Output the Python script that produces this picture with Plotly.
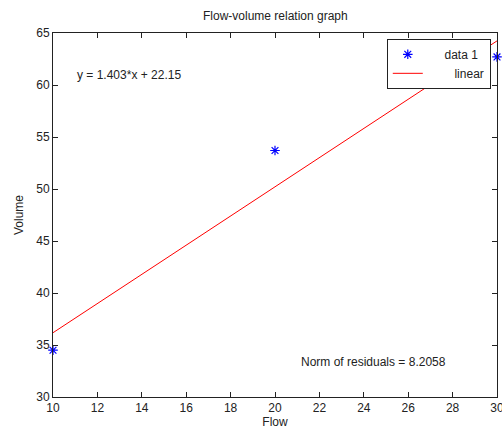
import plotly.graph_objects as go

flow = [10, 20, 30]
volume = [34.5, 53.7, 62.7]
slope = 1.403
intercept = 22.15
fit_x = [10, 30]
fit_y = [slope * v + intercept for v in fit_x]
x_ticks = [10, 12, 14, 16, 18, 20, 22, 24, 26, 28, 30]
y_ticks = [30, 35, 40, 45, 50, 55, 60, 65]
eq_text = "y = 1.403*x + 22.15"
norm_text = "Norm of residuals = 8.2058"

font = "Liberation Sans, Arial, sans-serif"

fig = go.Figure()
fig.add_trace(go.Scatter(
    x=flow, y=volume, mode="markers", name="\u00a0\u00a0\u00a0\u00a0\u00a0data 1",
    marker=dict(symbol="asterisk-open", size=8, color="blue",
                line=dict(color="blue", width=1.2)),
    cliponaxis=False,
))
fig.add_trace(go.Scatter(
    x=fit_x, y=fit_y, mode="lines", name="\u00a0\u00a0\u00a0\u00a0\u00a0\u00a0\u00a0\u00a0linear",
    line=dict(color="red", width=1),
))

axis_common = dict(
    showgrid=False, zeroline=False, showline=True, linecolor="#222",
    linewidth=1, mirror="ticks", ticks="inside", ticklen=5,
    tickcolor="#222", tickfont=dict(family=font, size=12, color="#222"),
    automargin=False, ticklabeloverflow="allow",
)
fig.update_xaxes(range=[10, 30], tickvals=x_ticks,
                 title=dict(text="Flow", font=dict(family=font, size=12, color="#222"), standoff=0),
                 **axis_common)
fig.update_yaxes(range=[30, 65], tickvals=y_ticks,
                 title=dict(text="Volume", font=dict(family=font, size=12, color="#222"), standoff=10),
                 **axis_common)

fig.add_annotation(x=11.0, y=61.0, xref="x", yref="y", text=eq_text,
                   showarrow=False, xanchor="left", yanchor="middle",
                   font=dict(family=font, size=12, color="#222"))
fig.add_annotation(x=21.1, y=33.4, xref="x", yref="y", text=norm_text,
                   showarrow=False, xanchor="left", yanchor="middle",
                   font=dict(family=font, size=12, color="#222"))

fig.update_layout(
    width=502, height=437,
    margin=dict(l=53, r=5, t=33, b=40, autoexpand=False),
    paper_bgcolor="white", plot_bgcolor="white",
    title=dict(text="Flow-volume relation graph", x=0.5485, xanchor="center",
               y=0.963, yanchor="middle",
               font=dict(family=font, size=12, color="#222")),
    legend=dict(x=0.986, y=0.984, xanchor="right", yanchor="top",
                bordercolor="#222", borderwidth=1, bgcolor="white",
                font=dict(family=font, size=12, color="#222"),
                tracegroupgap=0),
    showlegend=True,
)

fig.write_html("out.html", config={"displayModeBar": False},
               post_script="document.body.style.margin='0';document.body.style.overflow='hidden';")
